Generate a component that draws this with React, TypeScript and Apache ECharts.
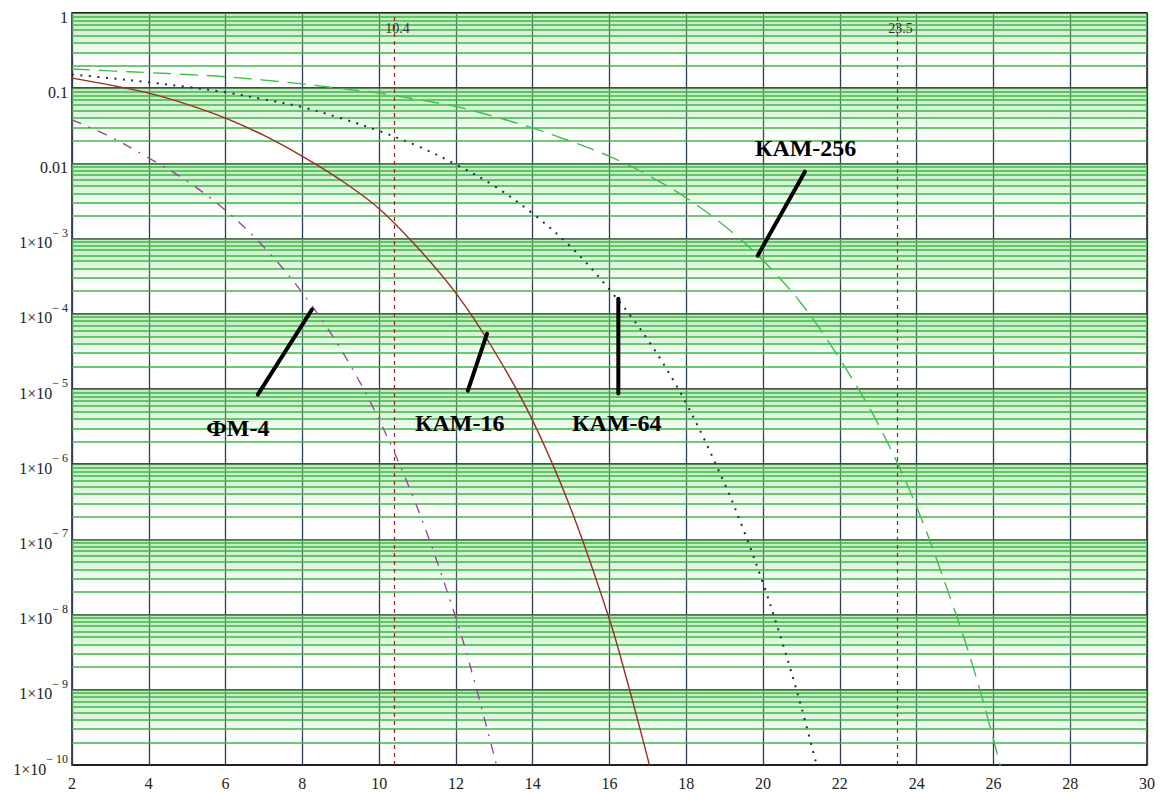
import React, { useEffect, useRef } from 'react';
import * as echarts from 'echarts';

// ---- data (Eb/N0, dB  ->  bit error probability) ----
const snrFM4 = [2, 3, 4, 5, 6, 7, 8, 9, 10, 11, 12, 12.5, 13, 13.1];
const berFM4 = [0.038, 0.0225, 0.0118, 0.0058, 0.00238, 7.7e-4, 1.9e-4, 3.4e-5, 3.9e-6, 2.6e-7, 9.0e-9, 1.2e-9, 1.3e-10, 8.2e-11];

const snrKAM16 = [2, 3, 4, 5, 6, 7, 8, 9, 10, 11, 12, 13, 14, 15, 16, 16.5, 17, 17.2];
const berKAM16 = [0.136, 0.11, 0.086, 0.061, 0.04, 0.0235, 0.0124, 0.006, 0.0025, 7.6e-4, 1.88e-4, 3.2e-5, 3.8e-6, 2.5e-7, 8.6e-9, 1.1e-9, 1.2e-10, 4.7e-11];

const snrKAM64 = [2, 3, 4, 5, 6, 7, 8, 9, 10, 11, 12, 13, 14, 15, 16, 17, 18, 19, 19.5, 20, 20.5, 21, 21.5];
const berKAM64 = [0.152, 0.136, 0.12, 0.104, 0.088, 0.071, 0.056, 0.04, 0.027, 0.017, 0.0097, 0.005, 0.00215, 7.7e-4, 2.1e-4, 4.5e-5, 6.4e-6, 5.5e-7, 1.3e-7, 2.6e-8, 4.3e-9, 5.8e-10, 6.2e-11];

const snrKAM256 = [2, 3, 4, 5, 6, 7, 8, 9, 10, 11, 12, 13, 14, 15, 16, 17, 18, 19, 20, 21, 22, 23, 24, 25, 25.5, 26, 26.3];
const berKAM256 = [0.18, 0.17, 0.161, 0.152, 0.142, 0.128, 0.114, 0.099, 0.086, 0.071, 0.057, 0.042, 0.0295, 0.0196, 0.0124, 0.007, 0.00347, 0.00147, 5.1e-4, 1.36e-4, 2.5e-5, 3.4e-6, 2.7e-7, 1.1e-8, 1.8e-9, 2.2e-10, 5.5e-11];

const markerSnr = [10.4, 23.5];
const markerLabels = ['10.4', '23.5'];

const curveNames = ['ФМ-4', 'КАМ-16', 'КАМ-64', 'КАМ-256'];

// annotation layout (data coords: snr, log10 BER)
const labelPos = [[6.32, -5.52], [12.1, -5.45], [16.19, -5.45], [21.11, -1.79]];
const pointerFrom = [[6.84, -5.075], [12.31, -5.023], [16.23, -5.06], [19.86, -3.227]];
const pointerTo = [[8.25, -3.943], [12.81, -4.265], [16.23, -3.8], [21.09, -2.11]];

const SERIF = '"Liberation Serif", "Times New Roman", serif';

export default function App() {
  const ref = useRef<HTMLDivElement>(null);

  useEffect(() => {
    if (!ref.current) return;
    const chart = echarts.init(ref.current, undefined, { renderer: 'svg' });

    const pair = (xs: number[], ys: number[]) => xs.map((x, i) => [x, ys[i]]);

    // minor green gridlines and shaded bands within each decade
    const minorLines: any[] = [];
    const bands: any[] = [];
    for (let k = -10; k <= -1; k++) {
      for (let m = 2; m <= 9; m++) minorLines.push({ yAxis: m * Math.pow(10, k) });
      bands.push([
        {
          yAxis: Math.pow(10, k + 1),
          itemStyle: {
            color: new echarts.graphic.LinearGradient(0, 0, 0, 1, [
              { offset: 0, color: 'rgba(120,215,120,0.5)' },
              { offset: 0.6, color: 'rgba(150,225,150,0.28)' },
              { offset: 1, color: 'rgba(200,240,200,0)' },
            ]),
          },
        },
        { yAxis: 2.2 * Math.pow(10, k) },
      ]);
    }

    const yFormatter = (v: number) => {
      const e = Math.round(Math.log10(v));
      if (e === 0) return '{b|1}';
      if (e === -1) return '{b|0.1}';
      if (e === -2) return '{b|0.01}';
      return '{b|1×10}{s|− ' + -e + '}';
    };

    const curveCommon = { type: 'line', showSymbol: false, smooth: 0.35, z: 5 };

    chart.setOption({
      animation: false,
      backgroundColor: '#ffffff',
      grid: { left: 72, right: 20, top: 13, bottom: 28, show: true, borderColor: '#1a1a1a', borderWidth: 1.5, backgroundColor: 'transparent' },
      xAxis: {
        type: 'value',
        min: 2,
        max: 30,
        interval: 2,
        axisLine: { show: false },
        axisTick: { show: false },
        axisLabel: { fontFamily: SERIF, fontSize: 16, color: '#222', margin: 10 },
        splitLine: { show: true, lineStyle: { color: '#2e3e52', width: 1.3 } },
      },
      yAxis: {
        type: 'log',
        logBase: 10,
        min: 1e-10,
        max: 1,
        interval: 1,
        splitNumber: 10,
        axisLine: { show: false },
        axisTick: { show: false },
        axisLabel: {
          showMinLabel: true,
          showMaxLabel: true,
          margin: 4,
          formatter: yFormatter,
          rich: {
            b: { fontFamily: SERIF, fontSize: 16, color: '#222', lineHeight: 24, verticalAlign: 'bottom' },
            s: { fontFamily: SERIF, fontSize: 12, color: '#222', lineHeight: 13, verticalAlign: 'top' },
          },
        },
        splitLine: { show: true, lineStyle: { color: '#111', width: 1.6 } },
      },
      series: [
        {
          name: 'grid',
          type: 'line',
          data: [],
          z: 1,
          silent: true,
          markArea: { silent: true, data: bands },
          markLine: {
            silent: true,
            precision: 14,
            symbol: ['none', 'none'],
            label: { show: false },
            lineStyle: { color: '#42b649', width: 1.5, type: 'solid' },
            data: minorLines,
          },
        },
        {
          name: 'markers',
          type: 'line',
          data: [],
          z: 2,
          silent: true,
          markLine: {
            silent: true,
            symbol: ['none', 'none'],
            label: { show: false },
            lineStyle: { color: '#8b2a1a', width: 1.2, type: [4, 4] },
            data: markerSnr.map((x) => ({ xAxis: x })),
          },
        },
        {
          ...curveCommon,
          name: curveNames[0],
          data: pair(snrFM4, berFM4),
          lineStyle: { color: '#9a3f9a', width: 1.3, type: [10, 8, 2, 8] },
        },
        {
          ...curveCommon,
          name: curveNames[1],
          data: pair(snrKAM16, berKAM16),
          lineStyle: { color: '#9b2d1f', width: 1.4, type: 'solid' },
        },
        {
          ...curveCommon,
          name: curveNames[2],
          data: pair(snrKAM64, berKAM64),
          lineStyle: { color: '#1c2a55', width: 2, type: [2, 6.5] },
        },
        {
          ...curveCommon,
          name: curveNames[3],
          data: pair(snrKAM256, berKAM256),
          lineStyle: { color: '#3fbf4a', width: 1.4, type: [18, 9] },
        },
      ],
    });

    const px = (x: number, lg: number) => chart.convertToPixel({ gridIndex: 0 }, [x, Math.pow(10, lg)]) as number[];

    const graphics: any[] = [];
    markerSnr.forEach((x, i) => {
      const p = px(x, -0.2);
      graphics.push({
        type: 'text',
        z: 10,
        style: { text: markerLabels[i], x: p[0] + 3, y: p[1], align: 'center', verticalAlign: 'middle', font: '14px ' + SERIF, fill: '#333' },
      });
    });
    curveNames.forEach((name, i) => {
      const a = px(pointerFrom[i][0], pointerFrom[i][1]);
      const b = px(pointerTo[i][0], pointerTo[i][1]);
      graphics.push({
        type: 'line',
        z: 10,
        shape: { x1: a[0], y1: a[1], x2: b[0], y2: b[1] },
        style: { stroke: '#000', lineWidth: 4, lineCap: 'round' },
      });
      const t = px(labelPos[i][0], labelPos[i][1]);
      graphics.push({
        type: 'text',
        z: 10,
        style: { text: name, x: t[0], y: t[1], align: 'center', verticalAlign: 'middle', font: 'bold 24px ' + SERIF, fill: '#000' },
      });
    });
    chart.setOption({ graphic: graphics });

    return () => chart.dispose();
  }, []);

  return <div ref={ref} style={{ position: 'fixed', left: 0, top: 0, width: 1167, height: 793, background: '#fff' }} />;
}
